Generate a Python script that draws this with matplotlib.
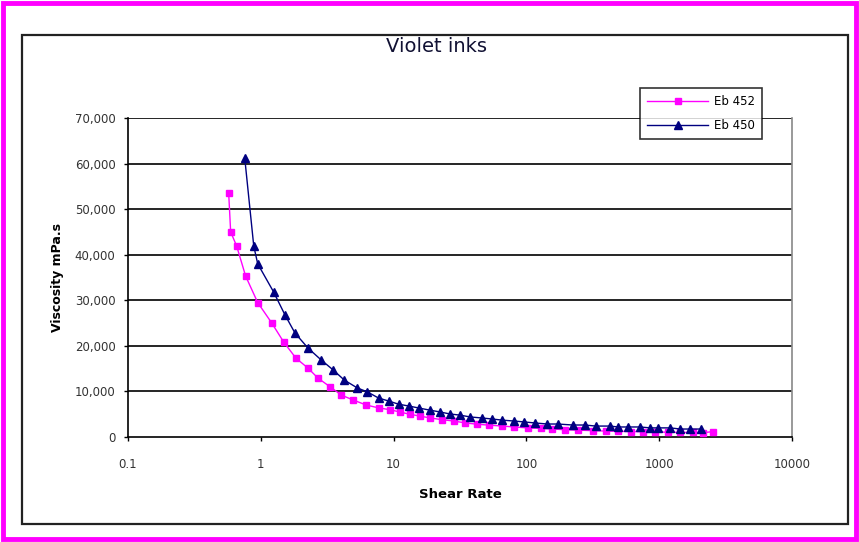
import matplotlib
matplotlib.use("Agg")
import matplotlib.pyplot as plt
from matplotlib.patches import Rectangle
from matplotlib.ticker import FixedLocator, NullLocator

title = "Violet inks"
x_label = "Shear Rate"
y_label = "Viscosity mPa.s"
series_names = ["Eb 452", "Eb 450"]

eb452_x = [0.573, 0.593, 0.658, 0.769, 0.948, 1.21, 1.49, 1.84, 2.27, 2.70, 3.33, 4.04, 4.98, 6.24, 7.70,
           9.33, 11.1, 13.2, 15.7, 18.7, 23.1, 28.5, 34.5, 42.6, 52.5, 65.8, 81.1, 102, 128, 157, 194,
           243, 316, 396, 489, 614, 757, 933, 1170, 1440, 1810, 2150, 2560]
eb452_y = [53500, 45000, 41900, 35300, 29500, 25000, 20800, 17300, 15100, 12900, 11000, 9200, 8100, 7000, 6400,
           6000, 5500, 5000, 4600, 4200, 3800, 3500, 3100, 2800, 2600, 2400, 2200, 2000, 1900, 1750, 1600,
           1500, 1400, 1300, 1250, 1200, 1150, 1100, 1050, 1000, 1000, 950, 1200]

eb450_x = [0.757, 0.885, 0.948, 1.25, 1.52, 1.81, 2.27, 2.85, 3.51, 4.25, 5.34, 6.35, 7.70, 9.17,
           10.9, 13.0, 15.5, 18.7, 22.3, 26.6, 31.6, 37.7, 46.4, 55.2, 65.8, 81.1, 96.6, 117, 144, 172,
           223, 275, 333, 426, 489, 582, 718, 855, 982, 1210, 1440, 1720, 2050]
eb450_y = [61200, 41900, 38000, 31800, 26800, 22800, 19500, 16900, 14700, 12500, 10750, 9900, 8550, 7900,
           7200, 6800, 6360, 5900, 5500, 5050, 4800, 4400, 4170, 3950, 3700, 3500, 3300, 3070, 2850, 2850,
           2630, 2630, 2400, 2400, 2200, 2200, 2200, 2000, 2000, 2000, 1750, 1750, 1750]

y_ticks = [0, 10000, 20000, 30000, 40000, 50000, 60000, 70000]
y_tick_labels = ["0", "10,000", "20,000", "30,000", "40,000", "50,000", "60,000", "70,000"]
x_ticks = [0.1, 1, 10, 100, 1000, 10000]
x_tick_labels = ["0.1", "1", "10", "100", "1000", "10000"]

W, H = 859, 542
fig = plt.figure(figsize=(W / 100, H / 100), dpi=100)
fig.patch.set_facecolor("white")

# outer magenta frame and inner black frame
fig.patches.append(Rectangle((3 / W, 3 / H), (W - 6) / W, (H - 6) / H, transform=fig.transFigure,
                             fill=False, edgecolor="#FF00FF", linewidth=3.5))
fig.patches.append(Rectangle((22 / W, (H - 524) / H), (848 - 22) / W, (524 - 35) / H, transform=fig.transFigure,
                             fill=False, edgecolor="#222222", linewidth=1.6))

ax = fig.add_axes([128 / W, (H - 437) / H, (792 - 128) / W, (437 - 118) / H])
ax.set_xscale("log")
ax.set_xlim(0.1, 10000)
ax.set_ylim(0, 70000)

ax.plot(eb452_x, eb452_y, color="#FF00FF", lw=1.0, marker="s", ms=4, mec="#FF00FF", mfc="#FF00FF",
        label=series_names[0], zorder=3)
ax.plot(eb450_x, eb450_y, color="#000080", lw=1.0, marker="^", ms=6, mec="#000080", mfc="#000080",
        label=series_names[1], zorder=4)

ax.yaxis.set_major_locator(FixedLocator(y_ticks))
ax.set_yticklabels(y_tick_labels, fontsize=8.5, color="#333333")
ax.xaxis.set_major_locator(FixedLocator(x_ticks))
ax.xaxis.set_minor_locator(NullLocator())
ax.set_xticklabels(x_tick_labels, fontsize=8.5, color="#333333")
ax.tick_params(axis="both", direction="out", length=3, width=1, color="black")
ax.tick_params(axis="x", pad=12)
ax.tick_params(axis="y", pad=6)

for yv in y_ticks[1:]:
    ax.axhline(yv, color="black", lw=1.2, zorder=1)

for side in ["left", "bottom"]:
    ax.spines[side].set_color("black")
    ax.spines[side].set_linewidth(1.2)
ax.spines["right"].set_color("#888888")
ax.spines["right"].set_linewidth(1.2)
ax.spines["top"].set_visible(False)

ax.set_xlabel(x_label, fontsize=9.5, fontweight="bold", labelpad=12)
ax.set_ylabel(y_label, fontsize=9, fontweight="bold", labelpad=8)

fig.text(436 / W, 1 - 47 / H, title, ha="center", va="center", fontsize=14, color="#111133")

leg = ax.legend(loc="upper left", bbox_to_anchor=((640 - 128) / (792 - 128), 1 + (118 - 88) / (437 - 118)),
                fontsize=8.5, frameon=True, fancybox=False, edgecolor="black", handlelength=5.2,
                borderpad=0.6, labelspacing=0.9, handletextpad=0.5, borderaxespad=0)
leg.get_frame().set_linewidth(1.2)
leg.set_zorder(10)

fig.savefig("out.png", dpi=100, facecolor="white")
